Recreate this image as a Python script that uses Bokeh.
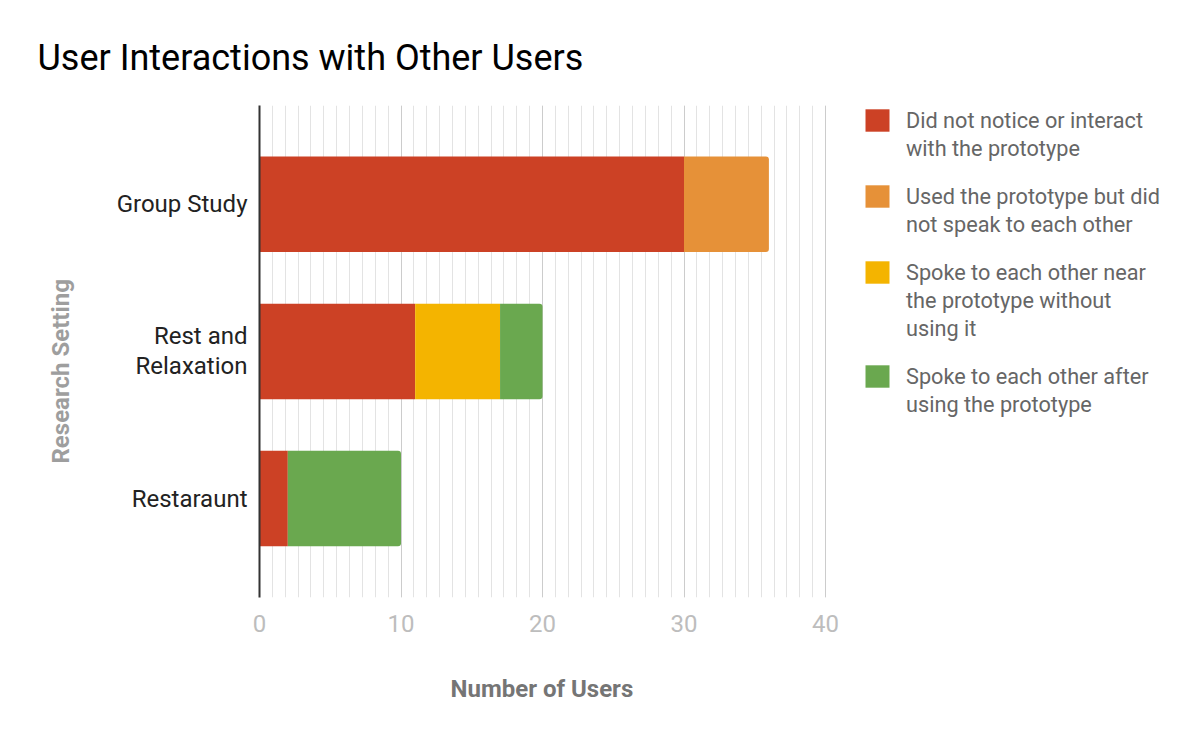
from bokeh.plotting import figure
from bokeh.models import Range1d, FixedTicker, Legend, LegendItem, ColumnDataSource, Title
from bokeh.embed import file_html
from bokeh.resources import INLINE

# ---- data ----
categories = ["Group Study", "Rest and\nRelaxation", "Restaraunt"]
series_names = [
    "Did not notice or interact\nwith the prototype",
    "Used the prototype but did\nnot speak to each other",
    "Spoke to each other near\nthe prototype without\nusing it",
    "Spoke to each other after\nusing the prototype",
]
did_not_notice = [30, 11, 2]
used_no_speak = [6, 0, 0]
spoke_near = [0, 6, 0]
spoke_after = [0, 3, 8]
x_ticks = [0, 10, 20, 30, 40]

series = [did_not_notice, used_no_speak, spoke_near, spoke_after]
colors = ["#cc4125", "#e69138", "#f4b400", "#6aa84f"]

n = len(categories)
ypos = [n - 1 - i for i in range(n)]

# layout: value axis 0..40 spans 566px; frame extends further right to host the legend
W, H = 1184, 742
LEFT, TOP, RIGHT, BOTTOM = 259, 105, 9, 145
frame_w = W - LEFT - RIGHT
frame_h = H - TOP - BOTTOM
x_end = frame_w * x_ticks[-1] / 566.0

p = figure(width=W, height=H, output_backend="svg", toolbar_location=None,
           x_range=Range1d(0, x_end), y_range=Range1d(-0.673, 2.672),
           min_border_left=LEFT, min_border_right=RIGHT, min_border_top=TOP,
           min_border_bottom=BOTTOM,
           title="User Interactions with Other Users")
p.outline_line_color = None
p.background_fill_color = "white"

# title
p.title.text_font = "Roboto"
p.title.text_font_size = "36px"
p.title.text_font_style = "normal"
p.title.text_color = "#000000"
p.title.offset = -222
p.title.standoff = 53

# stacked bars
last_idx = []
for r in range(n):
    li = 0
    for s in range(len(series)):
        if series[s][r] > 0:
            li = s
    last_idx.append(li)

legend_renderers = []
left = [0] * n
for s, vals in enumerate(series):
    rend_for_legend = None
    for is_last in (False, True):
        rows = [r for r in range(n) if vals[r] > 0 and (last_idx[r] == s) == is_last]
        if not rows:
            continue
        src = ColumnDataSource(dict(
            y=[ypos[r] for r in rows],
            left=[left[r] for r in rows],
            right=[left[r] + vals[r] for r in rows],
        ))
        kw = {}
        if is_last:
            kw["border_radius"] = (0, 3, 3, 0)
        rr = p.hbar(y="y", left="left", right="right", height=0.649, source=src,
                    fill_color=colors[s], line_color=None, **kw)
        if rend_for_legend is None:
            rend_for_legend = rr
    for r in range(n):
        left[r] += vals[r]
    legend_renderers.append(rend_for_legend)

# invisible renderer used for continuation lines of legend labels
blank = p.hbar(y=[], left=[], right=[], height=0.5, fill_alpha=0, line_alpha=0)

# axes
minor = [k * 10 / 11 for k in range(0, 45) if k * 10 / 11 <= 40]
p.xaxis.ticker = FixedTicker(ticks=x_ticks, minor_ticks=minor)
p.xaxis.axis_line_color = None
p.xaxis.major_tick_line_color = None
p.xaxis.minor_tick_line_color = None
p.xaxis.major_label_text_font = "Roboto"
p.xaxis.major_label_text_font_size = "24px"
p.xaxis.major_label_text_color = "#bdbdbd"
p.xaxis.major_label_standoff = 11

p.yaxis.ticker = FixedTicker(ticks=ypos)
p.yaxis.major_label_overrides = {ypos[i]: categories[i] for i in range(n)}
p.yaxis.axis_line_color = "#333333"
p.yaxis.axis_line_width = 2
p.yaxis.major_tick_line_color = None
p.yaxis.minor_tick_line_color = None
p.yaxis.major_label_text_font = "Roboto"
p.yaxis.major_label_text_font_size = "24px"
p.yaxis.major_label_text_line_height = 1.07
p.yaxis.major_label_text_color = "#222222"
p.yaxis.major_label_standoff = 6

p.ygrid.grid_line_color = None
p.xgrid.grid_line_color = "#cccccc"
p.xgrid.minor_grid_line_color = "#e3e3e3"

# axis titles as side titles
xt = Title(text="Number of Users", align="left", offset=191, standoff=76,
           text_font="Roboto", text_font_size="24px", text_font_style="bold",
           text_color="#757575")
p.add_layout(xt, "below")
yt = Title(text="Research Setting", align="left", offset=134, standoff=78,
           text_font="Roboto", text_font_size="24px", text_font_style="bold",
           text_color="#9e9e9e")
p.add_layout(yt, "left")

# legend: one block per series, one item per text line, swatch on the first line
LH = 28            # text line pitch in px
GAP = 20           # extra gap between entries
center = 120 - TOP  # first swatch centre, px below the frame top
for s in range(len(series)):
    lines = series_names[s].split("\n")
    k = len(lines)
    items = [LegendItem(label=lines[0], renderers=[legend_renderers[s]])]
    items += [LegendItem(label=t, renderers=[blank]) for t in lines[1:]]
    top_from_top = center - LH / 2
    vy = frame_h - (top_from_top + k * LH)
    lg = Legend(items=items, location=(603, vy))
    lg.label_text_font = "Roboto"
    lg.label_text_font_size = "21.7px"
    lg.label_text_color = "#666666"
    lg.glyph_width = 30
    lg.glyph_height = LH
    lg.label_standoff = 14
    lg.spacing = 0
    lg.padding = 0
    lg.margin = 0
    lg.border_line_color = None
    lg.background_fill_alpha = 0
    p.add_layout(lg, "center")
    center += k * LH + GAP

open("out.html", "w").write(file_html(p, INLINE))
